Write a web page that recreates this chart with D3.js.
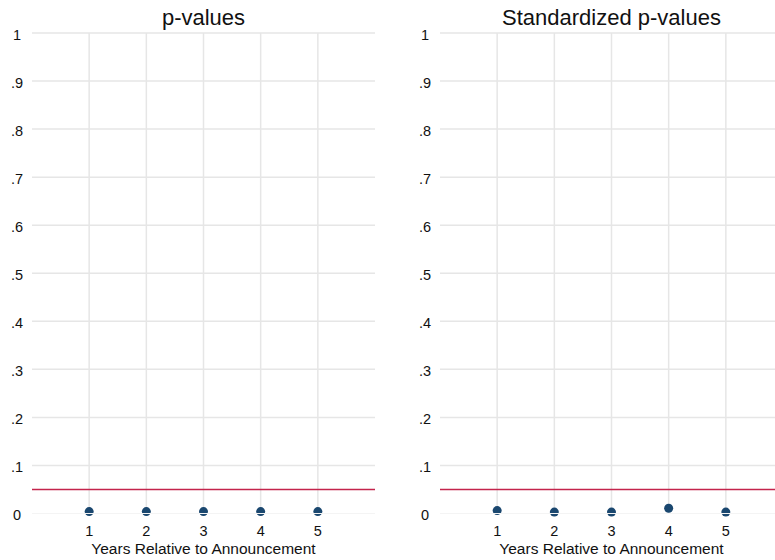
<!DOCTYPE html>
<html>
<head>
<meta charset="utf-8">
<script src="https://cdn.jsdelivr.net/npm/d3@7"></script>
<style>
  body { margin: 0; background: #fff; }
  text { font-family: "Liberation Sans", Arial, sans-serif; fill: #111; }
</style>
</head>
<body>
<div class="chart"></div>
<script>
// dimensions
var svgWidth = 775;
var svgHeight = 560;

// data
var years = [1, 2, 3, 4, 5];
var pValues = [0.004, 0.004, 0.004, 0.004, 0.004];
var stdPValues = [0.006, 0.003, 0.003, 0.011, 0.003];
var yTicks = [0, 0.1, 0.2, 0.3, 0.4, 0.5, 0.6, 0.7, 0.8, 0.9, 1];
var yTickLabels = ["0", ".1", ".2", ".3", ".4", ".5", ".6", ".7", ".8", ".9", "1"];
var cutoff = 0.05;

var panels = [
  { title: "p-values", values: pValues, left: 32, right: 375 },
  { title: "Standardized p-values", values: stdPValues, left: 440, right: 783 }
];

var svg = d3.select(".chart")
  .append("svg")
  .attr("width", svgWidth)
  .attr("height", svgHeight);

var yScale = d3.scaleLinear()
  .domain([0, 1])
  .range([513.5, 33]);

panels.forEach(function(p) {
  var xScale = d3.scaleLinear()
    .domain([0, 6])
    .range([p.left, p.right]);

  var g = svg.append("g");

  // horizontal grid (not the zero line, drawn later on top)
  g.selectAll(".hgrid")
    .data(yTicks.slice(1))
    .enter()
    .append("line")
    .attr("x1", xScale(0))
    .attr("x2", xScale(6))
    .attr("y1", d => yScale(d))
    .attr("y2", d => yScale(d))
    .attr("stroke", "#e6e6e6")
    .attr("stroke-width", 1.5);

  // vertical grid
  g.selectAll(".vgrid")
    .data(years)
    .enter()
    .append("line")
    .attr("x1", d => xScale(d))
    .attr("x2", d => xScale(d))
    .attr("y1", yScale(1))
    .attr("y2", yScale(0))
    .attr("stroke", "#e6e6e6")
    .attr("stroke-width", 1.5);

  // 5% line
  g.append("line")
    .attr("x1", xScale(0))
    .attr("x2", xScale(6))
    .attr("y1", yScale(cutoff))
    .attr("y2", yScale(cutoff))
    .attr("stroke", "#c4244c")
    .attr("stroke-width", 1.5);

  // points
  g.selectAll("circle")
    .data(p.values)
    .enter()
    .append("circle")
    .attr("cx", (d, i) => xScale(years[i]))
    .attr("cy", d => yScale(d))
    .attr("r", 4.5)
    .attr("fill", "#1a476f");

  // zero gridline sits on top of the dots
  g.append("line")
    .attr("x1", xScale(0))
    .attr("x2", xScale(6))
    .attr("y1", yScale(0))
    .attr("y2", yScale(0))
    .attr("stroke", "#f4f4f4")
    .attr("stroke-width", 1);

  // y tick labels
  g.selectAll(".ylab")
    .data(yTicks)
    .enter()
    .append("text")
    .attr("x", p.left - 15)
    .attr("y", d => yScale(d) + 6.5)
    .attr("text-anchor", "middle")
    .attr("font-size", "14.5px")
    .text((d, i) => yTickLabels[i]);

  // x tick labels
  g.selectAll(".xlab")
    .data(years)
    .enter()
    .append("text")
    .attr("x", d => xScale(d))
    .attr("y", 536)
    .attr("text-anchor", "middle")
    .attr("font-size", "14.5px")
    .text(d => d);

  // axis title
  g.append("text")
    .attr("x", (xScale(0) + xScale(6)) / 2)
    .attr("y", 554)
    .attr("text-anchor", "middle")
    .attr("font-size", "15.5px")
    .text("Years Relative to Announcement");

  // panel title
  g.append("text")
    .attr("x", (xScale(0) + xScale(6)) / 2)
    .attr("y", 25)
    .attr("text-anchor", "middle")
    .attr("font-size", "22px")
    .text(p.title);
});
</script>
</body>
</html>
